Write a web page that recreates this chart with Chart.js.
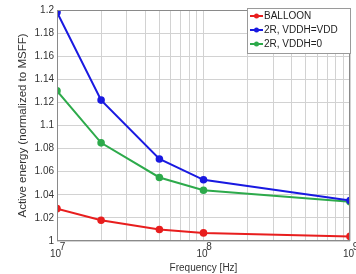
<!DOCTYPE html>
<html>
<head>
<meta charset="utf-8">
<script src="https://cdn.jsdelivr.net/npm/chart.js@4"></script>
<style>
  html, body { margin: 0; padding: 0; background: #fff; overflow: hidden; }
  #wrap { width: 356px; height: 274px; overflow: hidden; }
</style>
</head>
<body>
<div id="wrap"><canvas id="chart" width="372" height="274"></canvas></div>
<script>
const freqs = [1e7, 2e7, 5e7, 1e8, 1e9]
const balloon = [1.028, 1.018, 1.010, 1.007, 1.004]
const vddhVdd = [1.198, 1.122, 1.071, 1.053, 1.035]
const vddhZero = [1.130, 1.085, 1.055, 1.044, 1.034]
const seriesNames = ['BALLOON', '2R, VDDH=VDD', '2R, VDDH=0']
const seriesColors = ['rgb(232,30,30)', 'rgb(25,25,225)', 'rgb(45,170,75)']
const yTicks = [1, 1.02, 1.04, 1.06, 1.08, 1.1, 1.12, 1.14, 1.16, 1.18, 1.2]
const xTicks = [1e7, 2e7, 3e7, 4e7, 5e7, 6e7, 7e7, 8e7, 9e7,
                1e8, 2e8, 3e8, 4e8, 5e8, 6e8, 7e8, 8e8, 9e8, 1e9]

const FONT = '"Liberation Sans", Arial, sans-serif'

const toPoints = (vals) => vals.map((v, i) => ({ x: freqs[i], y: v }))

const makeSet = (idx, vals) => ({
    label: seriesNames[idx],
    data: toPoints(vals),
    borderColor: seriesColors[idx],
    backgroundColor: seriesColors[idx],
    borderWidth: 2,
    pointRadius: 2.8,
    pointHoverRadius: 2.8,
    showLine: true,
    tension: 0
})

// frame around the plot area
const framePlugin = {
    id: 'frame',
    afterDraw(chart) {
        const { ctx, chartArea } = chart
        ctx.save()
        ctx.strokeStyle = '#8a8a8a'
        ctx.lineWidth = 1
        ctx.strokeRect(chartArea.left + 0.5, chartArea.top + 0.5, chartArea.width - 1, chartArea.height - 1)
        ctx.restore()
    }
}

// boxed legend in the top right corner
const legendPlugin = {
    id: 'boxLegend',
    afterDraw(chart) {
        const { ctx } = chart
        const x0 = 247, y0 = 8, w = 103, h = 45
        ctx.save()
        ctx.fillStyle = '#fff'
        ctx.fillRect(x0, y0, w, h)
        ctx.strokeStyle = '#9a9a9a'
        ctx.lineWidth = 1
        ctx.strokeRect(x0 + 0.5, y0 + 0.5, w, h)
        ctx.font = '10px ' + FONT
        ctx.textBaseline = 'middle'
        chart.data.datasets.forEach((ds, i) => {
            const y = y0 + 8 + i * 14
            ctx.strokeStyle = ds.borderColor
            ctx.fillStyle = ds.borderColor
            ctx.lineWidth = 2
            ctx.beginPath()
            ctx.moveTo(x0 + 3, y)
            ctx.lineTo(x0 + 16, y)
            ctx.stroke()
            ctx.beginPath()
            ctx.arc(x0 + 9.5, y, 2.5, 0, Math.PI * 2)
            ctx.fill()
            ctx.fillStyle = '#222'
            ctx.fillText(ds.label, x0 + 17, y + 0.5)
        })
        ctx.restore()
    }
}

const ctx = document.getElementById('chart').getContext('2d')

new Chart(ctx, {
    type: 'scatter',
    data: {
        datasets: [makeSet(0, balloon), makeSet(1, vddhVdd), makeSet(2, vddhZero)]
    },
    options: {
        responsive: false,
        animation: false,
        layout: { padding: { top: 10, right: 22, left: 0, bottom: 0 } },
        plugins: {
            legend: { display: false },
            tooltip: { enabled: false }
        },
        scales: {
            x: {
                type: 'logarithmic',
                min: freqs[0],
                max: freqs[freqs.length - 1],
                afterFit: (s) => { s.height = 33 },
                afterBuildTicks: (s) => { s.ticks = xTicks.map(v => ({ value: v })) },
                grid: { color: '#d2d2d2', drawTicks: false },
                border: { display: false },
                ticks: {
                    autoSkip: false,
                    maxRotation: 0,
                    padding: 2,
                    color: '#333',
                    font: { family: FONT, size: 10, lineHeight: 0.75 },
                    callback: (v) => {
                        const e = Math.log10(v)
                        if (Math.abs(e - Math.round(e)) > 1e-9) return ''
                        // exponent on a raised line, shifted right like a superscript
                        return ['    ' + Math.round(e), '10 ']
                    }
                },
                title: {
                    display: true,
                    text: 'Frequency [Hz]',
                    color: '#333',
                    padding: { top: 1, bottom: 0 },
                    font: { family: FONT, size: 10 }
                }
            },
            y: {
                min: yTicks[0],
                max: yTicks[yTicks.length - 1],
                afterFit: (s) => { s.width = 57 },
                afterBuildTicks: (s) => { s.ticks = yTicks.map(v => ({ value: v })) },
                grid: { color: '#d2d2d2', drawTicks: false },
                border: { display: false },
                ticks: {
                    padding: 3,
                    color: '#333',
                    font: { family: FONT, size: 10 },
                    callback: (v) => String(Math.round(v * 100) / 100)
                },
                title: {
                    display: true,
                    text: 'Active energy (normalized to MSFF)',
                    color: '#333',
                    padding: { top: 16, bottom: 2 },
                    font: { family: FONT, size: 11.5 }
                }
            }
        }
    },
    plugins: [framePlugin, legendPlugin]
})
</script>
</body>
</html>
